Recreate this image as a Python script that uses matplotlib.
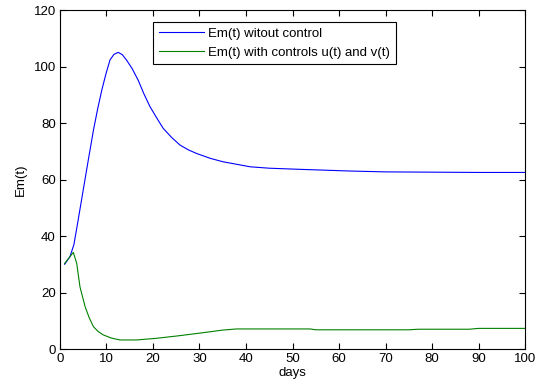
import matplotlib
matplotlib.use('Agg')
import matplotlib.pyplot as plt

plt.rcParams['font.family'] = ['Liberation Sans', 'DejaVu Sans']

# Em(t) without control
days_a = [1, 2.15, 3, 3.9, 5.0, 6.1, 7.2, 8.1, 9.0, 9.9, 10.75, 11.6, 12.5, 13.4, 14.3, 15.5, 16.8, 18.0, 19.35, 20.8, 22.2, 24.0, 25.8, 27.6, 29.4, 32.3, 35, 40.9, 45, 51.6, 62.4, 70, 80, 90, 100]
em_a = [30, 32.7, 37, 45.6, 56.3, 67, 77.5, 85, 91.7, 97.5, 102.3, 104.3, 105, 104.2, 102.3, 99.3, 95.2, 90.5, 85.8, 81.8, 78.1, 74.9, 72.2, 70.5, 69.2, 67.5, 66.3, 64.5, 64.0, 63.6, 63.0, 62.7, 62.6, 62.5, 62.5]

# Em(t) with controls u(t) and v(t)
days_b = [1, 2.15, 2.87, 3.6, 4.3, 5.4, 6.3, 7.2, 8.2, 9.3, 11, 12.9, 16.5, 20.8, 25.1, 28.5, 32.3, 35, 38, 45, 53.8, 55, 65, 75, 77, 88, 90, 100]
em_b = [30.3, 32.7, 34.2, 30.3, 22, 15, 11, 7.9, 6.2, 5.0, 3.9, 3.2, 3.2, 3.8, 4.6, 5.3, 6.1, 6.7, 7.1, 7.1, 7.1, 6.8, 6.8, 6.8, 7.0, 7.0, 7.3, 7.3]

fig = plt.figure(figsize=(5.37, 3.91), dpi=100)
ax = fig.add_axes([0.1117, 0.1074, 0.8660, 0.8670])

ax.plot(days_a, em_a, color=(0, 0, 1), lw=0.8, label='Em(t) witout control')
ax.plot(days_b, em_b, color=(0, 0.5, 0), lw=0.8, label='Em(t) with controls u(t) and v(t)')

ax.set_xlim(0, 100)
ax.set_ylim(0, 120)
ax.set_xticks(range(0, 101, 10))
ax.set_yticks(range(0, 121, 20))
ax.tick_params(direction='in', top=True, right=True, labelsize=9.5, length=4, width=0.8, pad=3)
for s in ax.spines.values():
    s.set_linewidth(0.8)
ax.set_xlabel('days', fontsize=9.5, labelpad=1)
ax.set_ylabel('Em(t)', fontsize=9.5, labelpad=5)

leg = ax.legend(loc='upper left', bbox_to_anchor=(0.2, 0.966), fontsize=9.5,
                frameon=True, fancybox=False, edgecolor='black', framealpha=1,
                handlelength=3.4, handletextpad=0.3, borderpad=0.45,
                labelspacing=0.5, borderaxespad=0)
leg.get_frame().set_linewidth(0.8)

plt.savefig('out.png', dpi=100)
